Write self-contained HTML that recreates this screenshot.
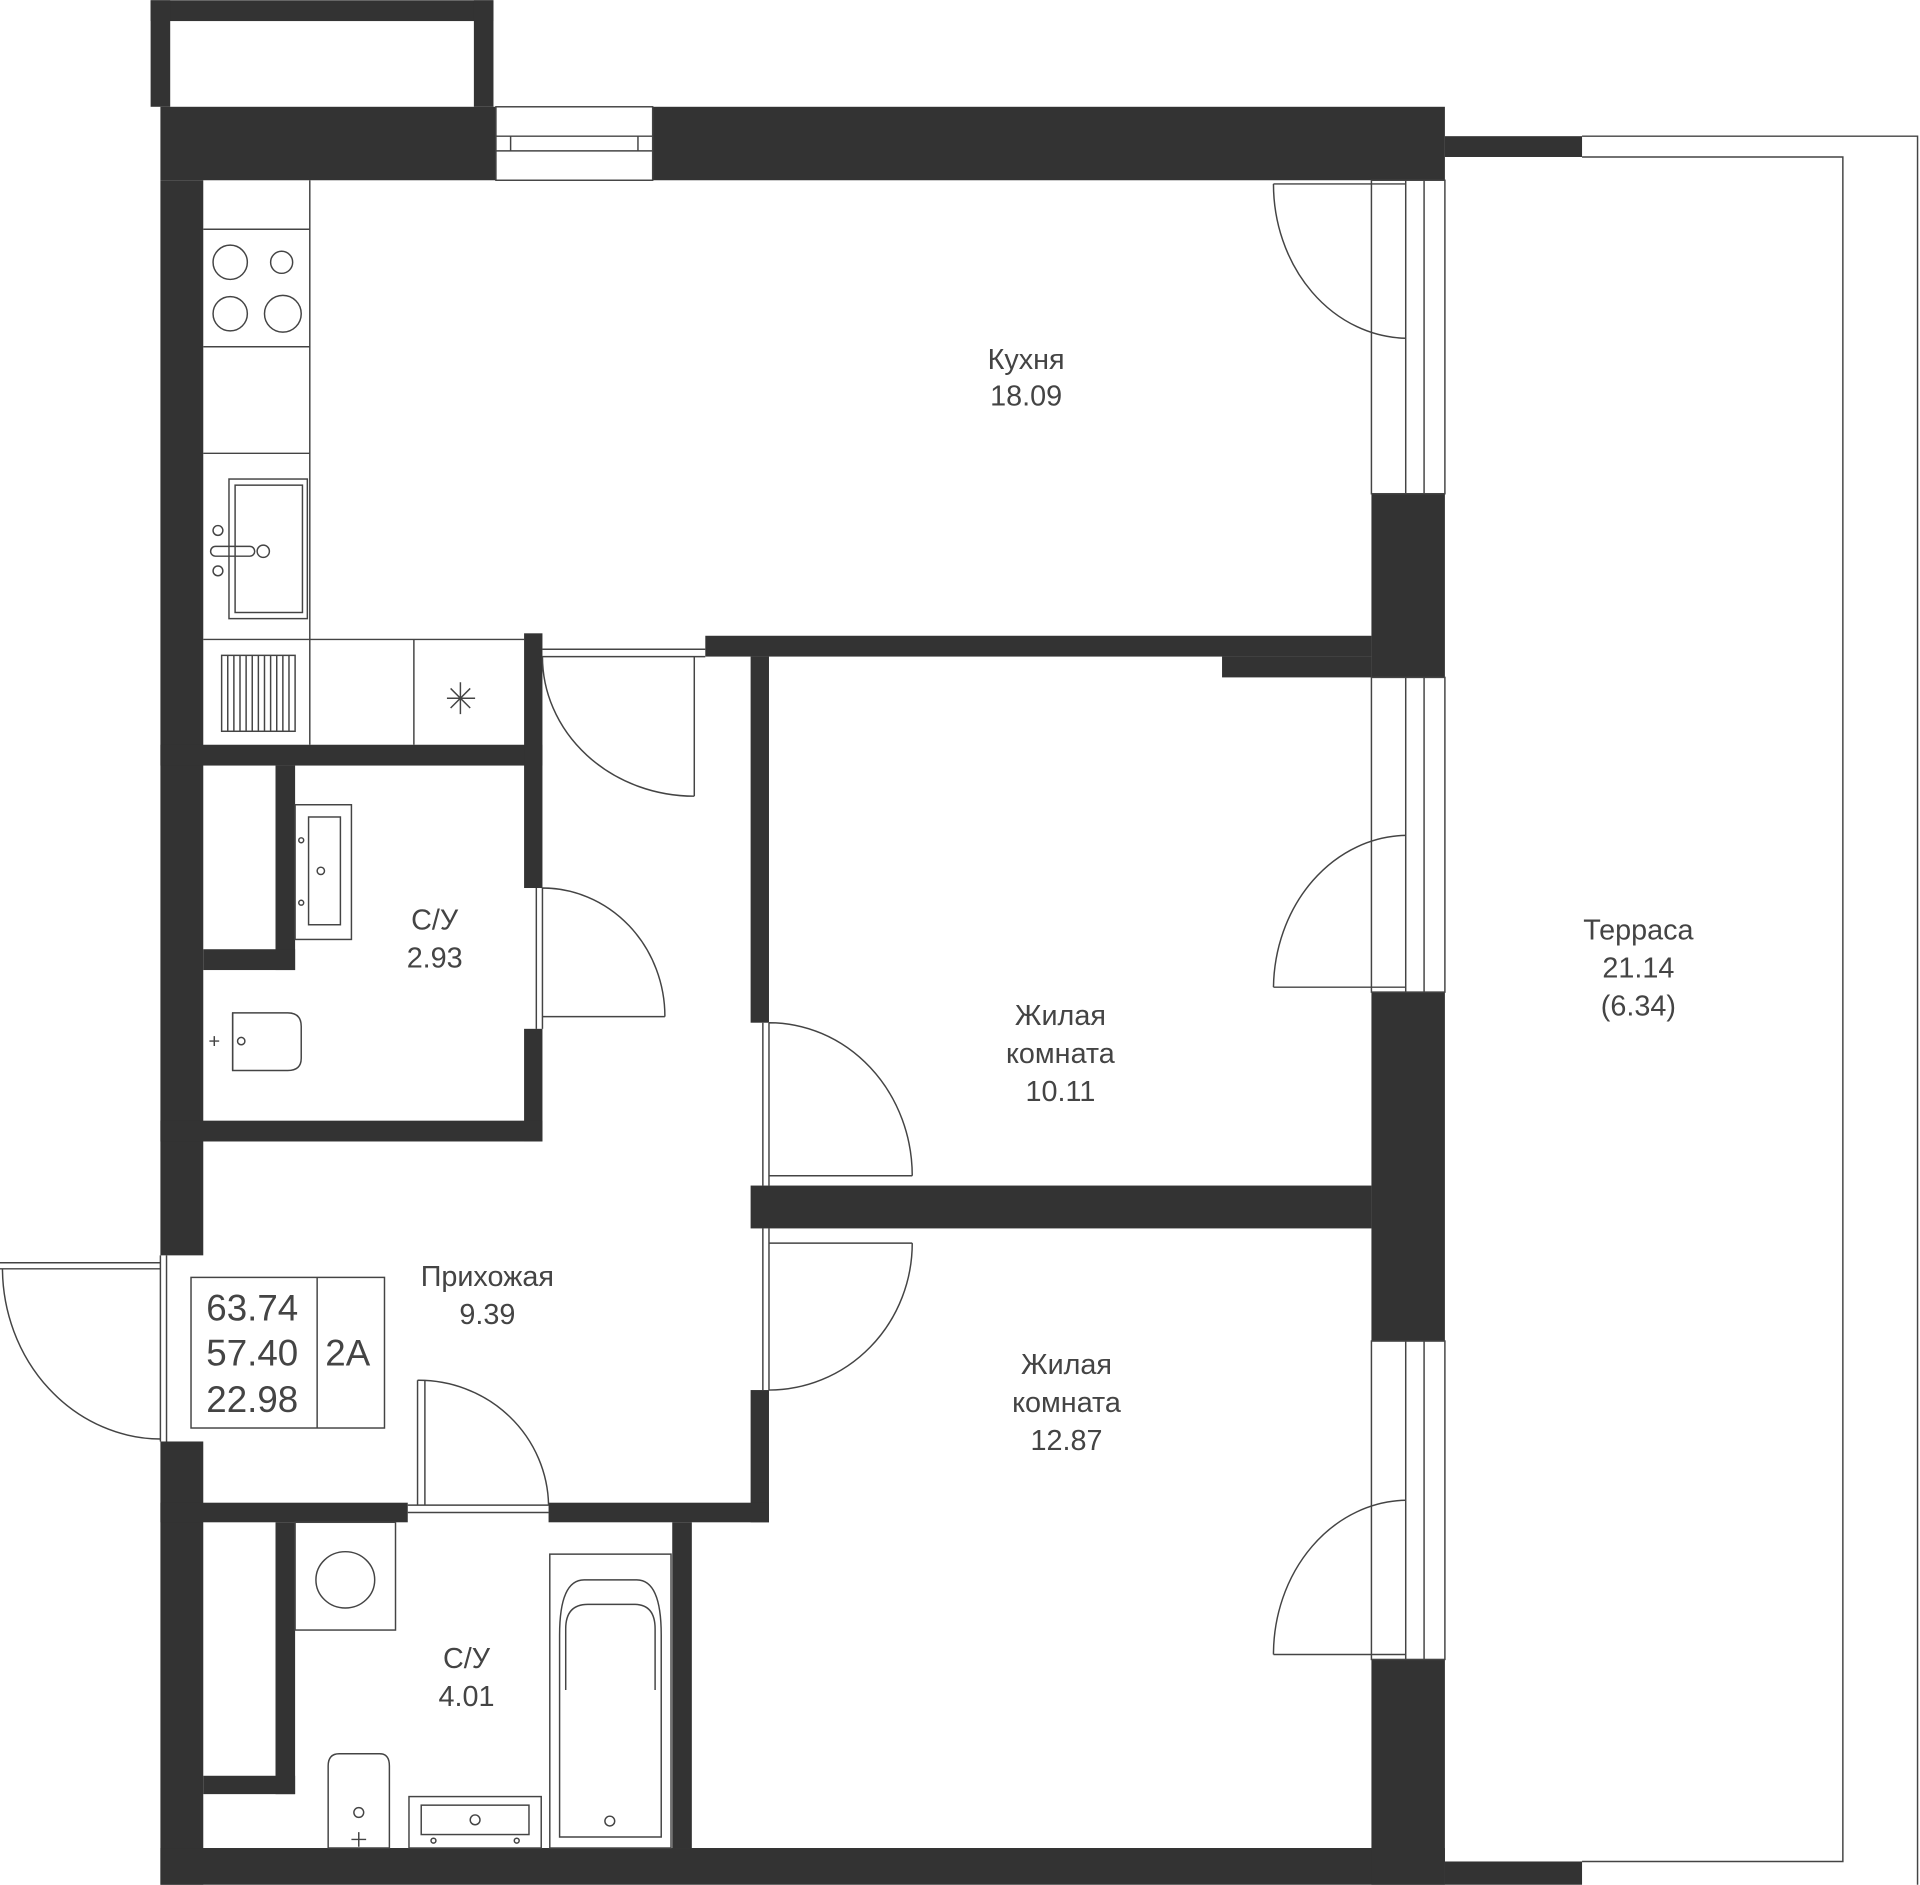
<!DOCTYPE html>
<html><head><meta charset="utf-8"><style>
html,body{margin:0;padding:0;background:#fff;}
svg{display:block;}
text{font-family:"Liberation Sans",sans-serif;fill:#444;}
</style></head><body>
<svg width="1920" height="1885" viewBox="0 0 1568 1539" xmlns="http://www.w3.org/2000/svg">
<g fill="#333">
<rect x="123" y="0" width="280" height="17"/>
<rect x="123" y="0" width="16" height="87"/>
<rect x="387" y="0" width="16" height="87"/>
<rect x="131" y="87" width="274" height="60"/>
<rect x="533" y="87" width="647" height="60"/>
<rect x="1180" y="111" width="112" height="17"/>
<rect x="131" y="147" width="35" height="878"/>
<rect x="131" y="1177" width="35" height="362"/>
<rect x="131" y="1509" width="1049" height="30"/>
<rect x="1180" y="1520" width="112" height="19"/>
<rect x="1120" y="403" width="60" height="150"/>
<rect x="1120" y="810" width="60" height="285"/>
<rect x="1120" y="1355" width="60" height="184"/>
<rect x="576" y="519" width="544" height="17"/>
<rect x="998" y="536" width="122" height="17"/>
<rect x="131" y="608" width="312" height="17"/>
<rect x="428" y="517" width="15" height="208"/>
<rect x="428" y="840" width="15" height="92"/>
<rect x="131" y="915" width="312" height="17"/>
<rect x="225" y="625" width="16" height="167"/>
<rect x="166" y="775" width="75" height="17"/>
<rect x="613" y="536" width="15" height="299"/>
<rect x="613" y="968" width="507" height="35"/>
<rect x="613" y="1135" width="15" height="108"/>
<rect x="131" y="1227" width="202" height="16"/>
<rect x="448" y="1227" width="180" height="16"/>
<rect x="549" y="1243" width="16" height="266"/>
<rect x="225" y="1243" width="16" height="222"/>
<rect x="166" y="1450" width="75" height="15"/>
</g>
<g fill="none" stroke="#444" stroke-width="1.2">
<rect x="405" y="87" width="128" height="60"/>
<line x1="405" y1="111" x2="533" y2="111"/><line x1="405" y1="123" x2="533" y2="123"/>
<line x1="417" y1="111" x2="417" y2="123"/><line x1="521" y1="111" x2="521" y2="123"/>
<polyline points="1292,111 1566,111 1566,1539"/>
<polyline points="1292,128 1505,128 1505,1520 1292,1520"/>
<rect x="1120" y="147" width="60" height="256"/><line x1="1148" y1="147" x2="1148" y2="403"/><line x1="1163" y1="147" x2="1163" y2="403"/>
<rect x="1120" y="553" width="60" height="257"/><line x1="1148" y1="553" x2="1148" y2="810"/><line x1="1163" y1="553" x2="1163" y2="810"/>
<rect x="1120" y="1095" width="60" height="260"/><line x1="1148" y1="1095" x2="1148" y2="1355"/><line x1="1163" y1="1095" x2="1163" y2="1355"/>
<path d="M1040,150 L1148,150 M1040,150 A110,126 0 0 0 1148,276"/>
<path d="M1040,806 L1148,806 M1040,806 A110,126 0 0 1 1148,682"/>
<path d="M1040,1351 L1148,1351 M1040,1351 A110,126 0 0 1 1148,1225"/>
<line x1="166" y1="187" x2="253" y2="187"/><line x1="253" y1="147" x2="253" y2="608"/>
<line x1="166" y1="283" x2="253" y2="283"/><line x1="166" y1="370" x2="253" y2="370"/>
<circle cx="188" cy="214" r="14"/><circle cx="230" cy="214" r="9"/>
<circle cx="188" cy="256" r="14"/><circle cx="231" cy="256" r="15"/>
<rect x="187" y="391" width="64" height="114"/><rect x="192" y="396" width="55" height="104"/>
<circle cx="178" cy="433" r="4"/><circle cx="178" cy="466" r="4"/><circle cx="215" cy="450" r="5"/>
<rect x="172" y="446" width="36" height="8" rx="4"/>
<line x1="166" y1="522" x2="428" y2="522"/><line x1="338" y1="522" x2="338" y2="608"/>
<rect x="181" y="535" width="60" height="62"/>
<path d="M186,535V597M191,535V597M196,535V597M201,535V597M206,535V597M211,535V597M216,535V597M221,535V597M226,535V597M231,535V597M236,535V597"/>
<path d="M365,570H388M376,557V583M368,562L384,578M384,562L368,578"/>
<path d="M443,530 L576,530 M443,536 L576,536 M567,536 L567,650 M443,536 A124,114 0 0 0 567,650"/>
<path d="M443,725 L443,840 M438,725 L438,840 M443,830 L543,830 M443,725 A100,105 0 0 1 543,830"/>
<path d="M628,835 L628,968 M623,835 L623,968 M628,960 L745,960 M628,835 A117,125 0 0 1 745,960"/>
<path d="M628,1003 L628,1135 M623,1003 L623,1135 M628,1015 L745,1015 M745,1015 A117,120 0 0 1 628,1135"/>
<path d="M131,1025 L131,1177 M136,1025 L136,1177 M0,1031 L131,1031 M0,1036 L131,1036 M2,1036 A130,140 0 0 0 131,1175"/>
<path d="M333,1229 L448,1229 M333,1235 L448,1235 M341,1127 L341,1229 M347,1127 L347,1229 M341,1127 A106,104 0 0 1 448,1229"/>
<rect x="241" y="657" width="46" height="110"/><rect x="252" y="667" width="26" height="88"/>
<circle cx="262" cy="711" r="3"/><circle cx="246" cy="686" r="2"/><circle cx="246" cy="737" r="2"/>
<path d="M190,827 H235 Q246,827 246,838 V864 Q246,874 235,874 H190 Z"/><line x1="190" y1="827" x2="190" y2="874"/>
<circle cx="197" cy="850" r="3"/><path d="M171,850h8M175,846v8"/>
<rect x="156" y="1043" width="158" height="123"/><line x1="259" y1="1043" x2="259" y2="1166"/>
<rect x="241" y="1243" width="82" height="88"/><ellipse cx="282" cy="1290" rx="24" ry="23"/>
<rect x="449" y="1269" width="99" height="240"/>
<path d="M457,1500 V1335 Q457,1290 477,1290 H520 Q540,1290 540,1335 V1500 Z"/>
<path d="M462,1380 V1330 Q462,1310 480,1310 H518 Q535,1310 535,1330 V1380"/>
<circle cx="498" cy="1487" r="4"/>
<path d="M277,1432 H310 Q318,1432 318,1442 V1509 H268 V1442 Q268,1432 277,1432 Z"/>
<circle cx="293" cy="1480" r="4"/><path d="M287,1502h12M293,1496v12"/>
<rect x="334" y="1467" width="108" height="42"/><rect x="344" y="1474" width="88" height="24"/>
<circle cx="388" cy="1486" r="4"/><circle cx="354" cy="1503" r="2"/><circle cx="422" cy="1503" r="2"/>
</g>
<g font-size="23.5" text-anchor="middle">
<text x="838" y="301">Кухня</text><text x="838" y="331">18.09</text>
<text x="355" y="759">С/У</text><text x="355" y="790">2.93</text>
<text x="866" y="837">Жилая</text><text x="866" y="868">комната</text><text x="866" y="899">10.11</text>
<text x="1338" y="767">Терраса</text><text x="1338" y="798">21.14</text><text x="1338" y="829">(6.34)</text>
<text x="398" y="1050">Прихожая</text><text x="398" y="1081">9.39</text>
<text x="871" y="1122">Жилая</text><text x="871" y="1153">комната</text><text x="871" y="1184">12.87</text>
<text x="381" y="1362">С/У</text><text x="381" y="1393">4.01</text>
</g>
<g font-size="30" text-anchor="middle">
<text x="206" y="1078">63.74</text><text x="206" y="1115">57.40</text><text x="206" y="1153">22.98</text>
<text x="284" y="1115">2A</text>
</g>
</svg>
</body></html>
